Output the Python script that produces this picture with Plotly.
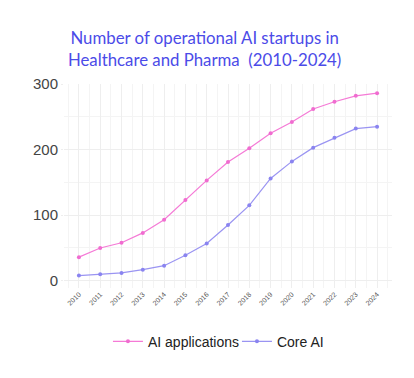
import plotly.graph_objects as go

years = list(range(2010, 2025))
year_labels = [str(y) for y in years]
ai_applications = [36, 50, 58, 73, 93, 123, 153, 181, 202, 225, 242, 262, 273, 282, 286]
core_ai = [8, 10, 12, 17, 23, 39, 57, 85, 115, 156, 182, 203, 218, 232, 235]

fig = go.Figure()
fig.add_trace(go.Scatter(x=years, y=ai_applications, name="AI applications",
                         mode="lines+markers",
                         line=dict(color="#f57ad6", width=1.2),
                         marker=dict(color="#f06cd0", size=4)))
fig.add_trace(go.Scatter(x=years, y=core_ai, name="Core AI",
                         mode="lines+markers",
                         line=dict(color="#9a94f2", width=1.2),
                         marker=dict(color="#8a84f0", size=4)))

fig.update_layout(
    width=414, height=378,
    margin=dict(l=56, r=30, t=76, b=98, autoexpand=False),
    paper_bgcolor="white", plot_bgcolor="white",
    title=dict(text="Number of operational AI startups in<br>Healthcare and Pharma  (2010-2024)",
               x=0.475, xanchor="center", y=0.905, yanchor="top",
               font=dict(family="Lato", size=16.8, color="#4b4be8")),
    showlegend=True,
    legend=dict(orientation="h", x=0.134, xanchor="left", y=-0.185, yanchor="top",
                font=dict(family="Arial", size=14, color="#222"),
                itemwidth=30, entrywidth=84, entrywidthmode="pixels"),
    xaxis=dict(range=[2009.3, 2024.7], tickmode="array", tickvals=years, ticktext=year_labels,
               tickangle=-45, tickfont=dict(family="Arial", size=7, color="#555"),
               showgrid=True, gridcolor="#eeeeee", gridwidth=1, zeroline=False,
               showline=False, ticks="", automargin=False,
               minor=dict(tickvals=[y + 0.5 for y in range(2009, 2025)], showgrid=True,
                          gridcolor="#f4f4f4", gridwidth=1)),
    yaxis=dict(range=[-11, 300], tickvals=[0, 100, 200, 300],
               tickfont=dict(family="Arial", size=15, color="#444"),
               showgrid=True, gridcolor="#eeeeee", gridwidth=1, zeroline=False,
               showline=False, ticks="outside", ticklen=2, tickcolor="#eeeeee",
               automargin=False,
               minor=dict(tickvals=[50, 150, 250], showgrid=True,
                          gridcolor="#f4f4f4", gridwidth=1)),
)

fig.write_html("out.html")
